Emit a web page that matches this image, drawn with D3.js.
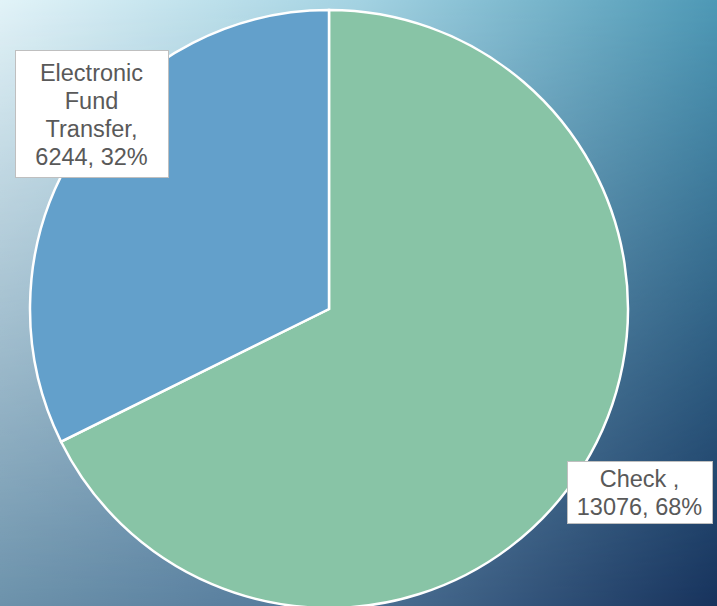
<!DOCTYPE html>
<html><head><meta charset="utf-8">
<script src="https://cdn.jsdelivr.net/npm/d3@7"></script>
<style>html,body{margin:0;padding:0;overflow:hidden;}svg{display:block;}</style>
</head><body>
<script>
const categories = ["Check ", "Electronic Fund Transfer"];
const values = [13076, 6244];
const percents = ["68%", "32%"];
const colors = ["#88c4a6", "#63a0cb"];
const labelLines = [["Check ,", "13076, 68%"], ["Electronic", "Fund", "Transfer,", "6244, 32%"]];

const W = 717, H = 606;
const svg = d3.select("body").append("svg").attr("width", W).attr("height", H);
const defs = svg.append("defs");
function hgrad(id, stops) {
  const gr = defs.append("linearGradient").attr("id", id)
    .attr("gradientUnits", "userSpaceOnUse").attr("x1", 0).attr("y1", 0).attr("x2", W).attr("y2", 0);
  stops.forEach(([o, c]) => gr.append("stop").attr("offset", o).attr("stop-color", c));
}
hgrad("topg", [[0, "#e2f3f8"], [0.5, "#a4d3e2"], [1, "#4e99b6"]]);
hgrad("botg", [[0, "#6c92ab"], [0.45, "#52789a"], [1, "#17325c"]]);
const vg = defs.append("linearGradient").attr("id", "vmask")
  .attr("gradientUnits", "userSpaceOnUse").attr("x1", 0).attr("y1", 0).attr("x2", 0).attr("y2", H);
vg.append("stop").attr("offset", 0).attr("stop-color", "#000");
vg.append("stop").attr("offset", 1).attr("stop-color", "#fff");
defs.append("mask").attr("id", "m").append("rect").attr("width", W).attr("height", H).attr("fill", "url(#vmask)");
svg.append("rect").attr("width", W).attr("height", H).attr("fill", "url(#topg)");
svg.append("rect").attr("width", W).attr("height", H).attr("fill", "url(#botg)").attr("mask", "url(#m)");

const cx = 329, cy = 309, r = 299;
const pie = d3.pie().sort(null).value(d => d)(values);
const arc = d3.arc().innerRadius(0).outerRadius(r);
const g = svg.append("g").attr("transform", `translate(${cx},${cy})`);
g.selectAll("path").data(pie).join("path")
  .attr("d", arc).attr("fill", (d, i) => colors[i])
  .attr("stroke", "#fff").attr("stroke-width", 2.5).attr("stroke-linejoin", "miter");

const boxes = [
  {x: 567, y: 461, w: 145, h: 62, cx: 639.5, base: 487},
  {x: 15, y: 50, w: 153, h: 127, cx: 91.5, base: 81}
];
boxes.forEach((b, i) => {
  svg.append("rect").attr("x", b.x + 0.5).attr("y", b.y + 0.5).attr("width", b.w).attr("height", b.h)
    .attr("fill", "#fff").attr("stroke", "#bfbfbf").attr("stroke-width", 1);
  const t = svg.append("text").attr("text-anchor", "middle")
    .attr("font-family", "Liberation Sans, Arial, sans-serif").attr("font-size", 23.5).attr("fill", "#595959");
  labelLines[i].forEach((ln, j) => {
    t.append("tspan").attr("x", b.cx).attr("y", b.base + j * 28).text(ln);
  });
});
</script>
</body></html>
